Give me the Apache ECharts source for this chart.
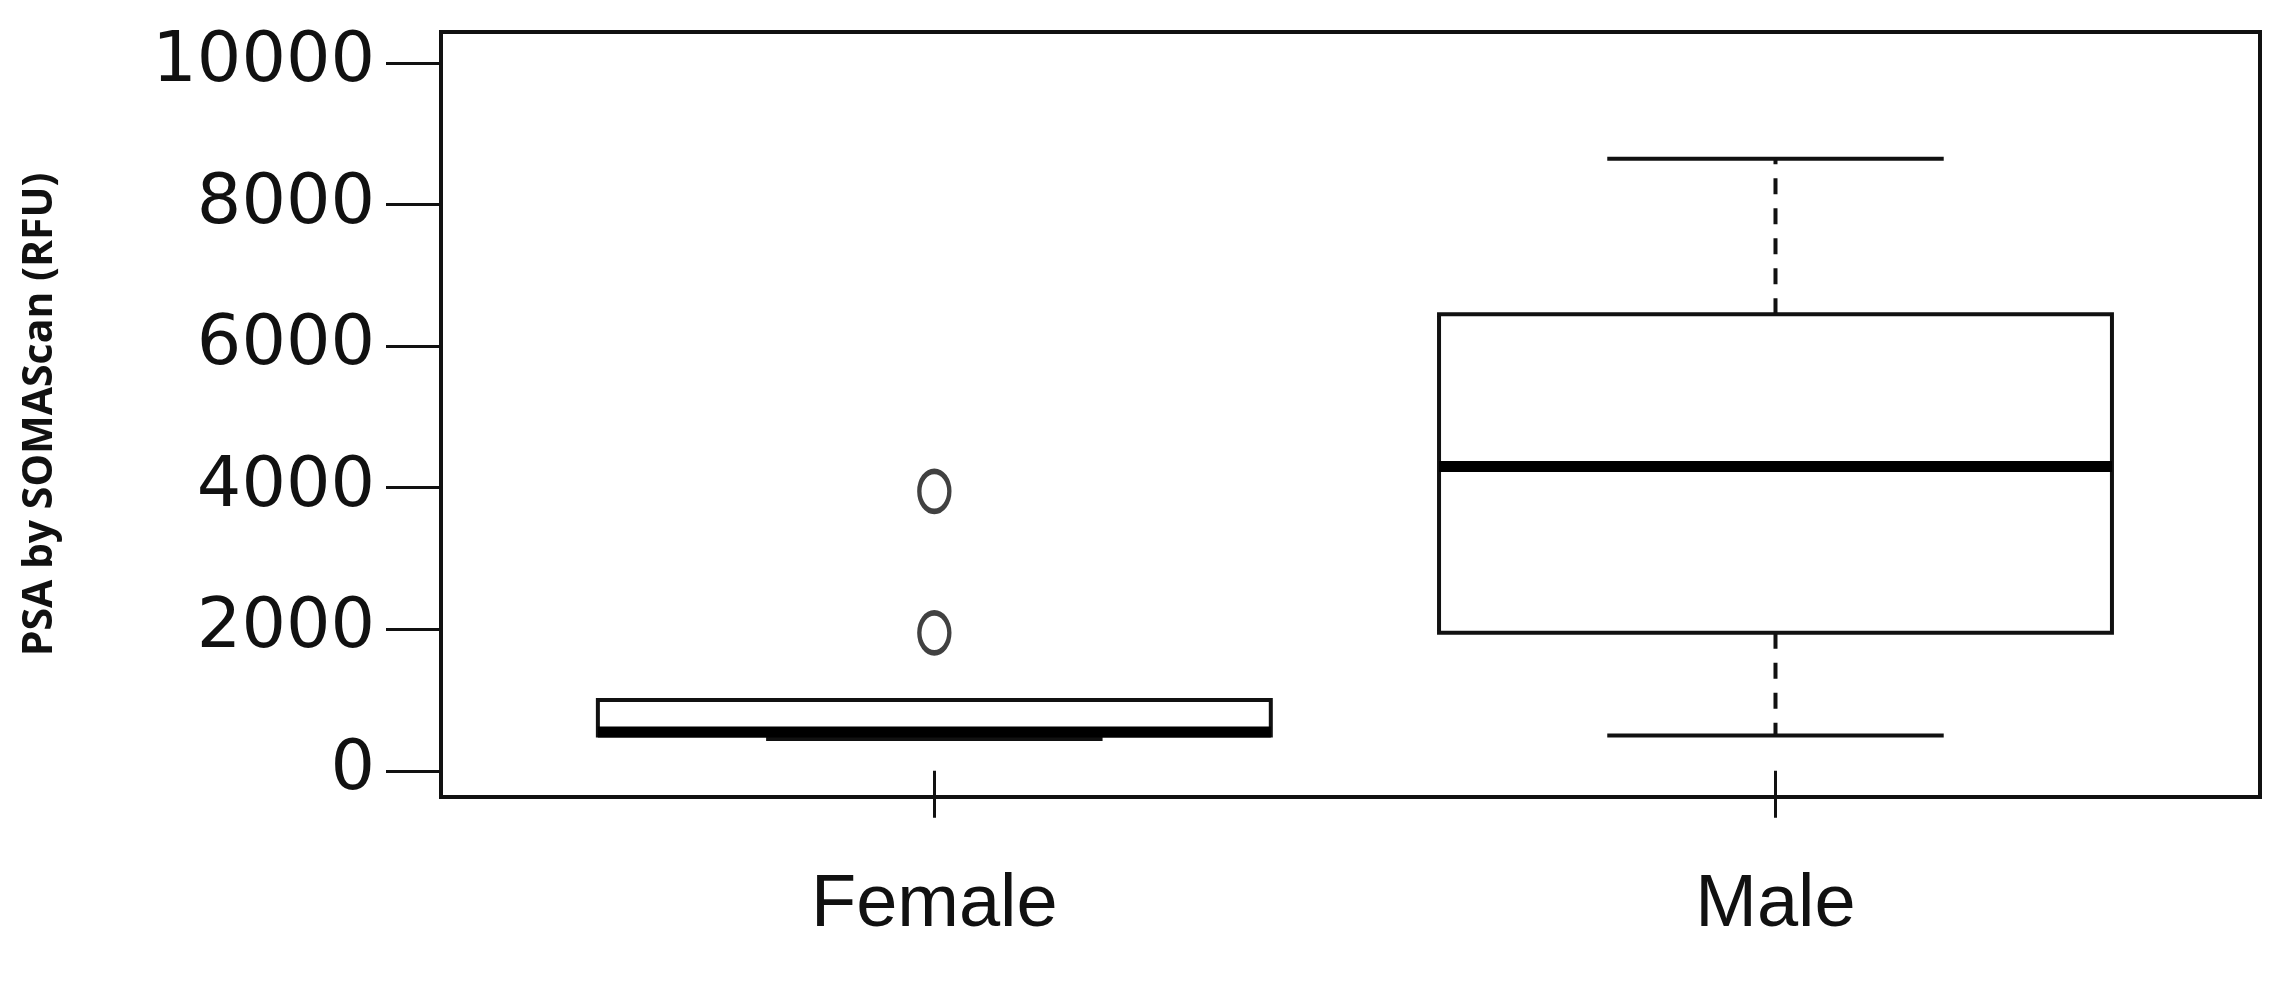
<!DOCTYPE html>
<html>
<head>
  <meta charset="UTF-8" />
  <script src="https://cdn.jsdelivr.net/npm/echarts@6/dist/echarts.min.js"></script>
  <style>
    html, body { margin: 0; padding: 0; background: #fff; }
    #main { width: 2269px; height: 987px; }
  </style>
</head>
<body>
  <div id="main"></div>
  <script>
    const categories = ['Female', 'Male'];
    // [lower whisker, Q1, median, Q3, upper whisker]
    const boxStats = [
      [450, 500, 550, 1000, 1000],
      [500, 1950, 4300, 6450, 8650]
    ];
    // [group position (1 = Female, 2 = Male), value]
    const outliers = [[1, 1950], [1, 3950]];
    const yTicks = [0, 2000, 4000, 6000, 8000, 10000];
    const xTicks = [1, 2];

    const chart = echarts.init(document.getElementById('main'));
    const BOX_FRAC = 0.8;

    function renderBox(params, api) {
      const i = api.value(0);
      const lo = api.coord([i, api.value(1)]);
      const q1 = api.coord([i, api.value(2)]);
      const md = api.coord([i, api.value(3)]);
      const q3 = api.coord([i, api.value(4)]);
      const hi = api.coord([i, api.value(5)]);
      const w = api.size([1, 0])[0] * BOX_FRAC;
      const cx = lo[0];
      const line = { stroke: '#111', lineWidth: 4 };
      const dash = { stroke: '#111', lineWidth: 4, lineDash: [16, 14] };
      return {
        type: 'group',
        children: [
          { type: 'line', shape: { x1: cx, y1: q3[1], x2: cx, y2: hi[1] }, style: dash },
          { type: 'line', shape: { x1: cx, y1: q1[1], x2: cx, y2: lo[1] }, style: dash },
          { type: 'line', shape: { x1: cx - w / 4, y1: hi[1], x2: cx + w / 4, y2: hi[1] }, style: line },
          { type: 'line', shape: { x1: cx - w / 4, y1: lo[1], x2: cx + w / 4, y2: lo[1] }, style: line },
          { type: 'rect', shape: { x: cx - w / 2, y: q3[1], width: w, height: q1[1] - q3[1] },
            style: { fill: '#fff', stroke: '#111', lineWidth: 4 } },
          { type: 'line', shape: { x1: cx - w / 2, y1: md[1], x2: cx + w / 2, y2: md[1] },
            style: { stroke: '#000', lineWidth: 11 } }
        ]
      };
    }

    chart.setOption({
      backgroundColor: '#fff',
      animation: false,
      grid: { left: 441, right: 9, top: 32, bottom: 190, show: true, borderColor: '#111', borderWidth: 4 },
      xAxis: {
        type: 'value',
        min: 0.4135,
        max: 2.576,
        axisLine: { show: false },
        axisTick: { show: true, length: 47, customValues: xTicks, lineStyle: { color: '#111', width: 3 } },
        axisLabel: {
          color: '#111', fontSize: 74, margin: 72, customValues: xTicks,
          fontFamily: 'Liberation Sans, Arial',
          formatter: v => categories[Math.round(v) - 1] || ''
        },
        splitLine: { show: false }
      },
      yAxis: {
        type: 'value',
        min: -370,
        max: 10440,
        name: 'PSA by SOMAScan (RFU)',
        nameLocation: 'middle',
        nameGap: 380,
        nameTextStyle: { color: '#111', fontSize: 41, fontWeight: 'bold', fontFamily: 'Open Sans, DejaVu Sans' },
        axisLine: { show: false },
        axisTick: { show: true, length: 55, customValues: yTicks, lineStyle: { color: '#111', width: 3 } },
        axisLabel: {
          color: '#111', fontSize: 70, margin: 66, customValues: yTicks,
          fontFamily: 'DejaVu Sans', formatter: v => String(v)
        },
        splitLine: { show: false }
      },
      series: [
        {
          type: 'custom',
          renderItem: renderBox,
          encode: { x: 0, y: [1, 2, 3, 4, 5] },
          data: boxStats.map((s, i) => [i + 1].concat(s)),
          z: 2
        },
        {
          type: 'scatter',
          data: outliers,
          symbol: 'circle',
          symbolSize: [30, 40],
          itemStyle: { color: '#fff', borderColor: '#111', borderWidth: 5 },
          z: 3
        }
      ]
    });
  </script>
</body>
</html>
